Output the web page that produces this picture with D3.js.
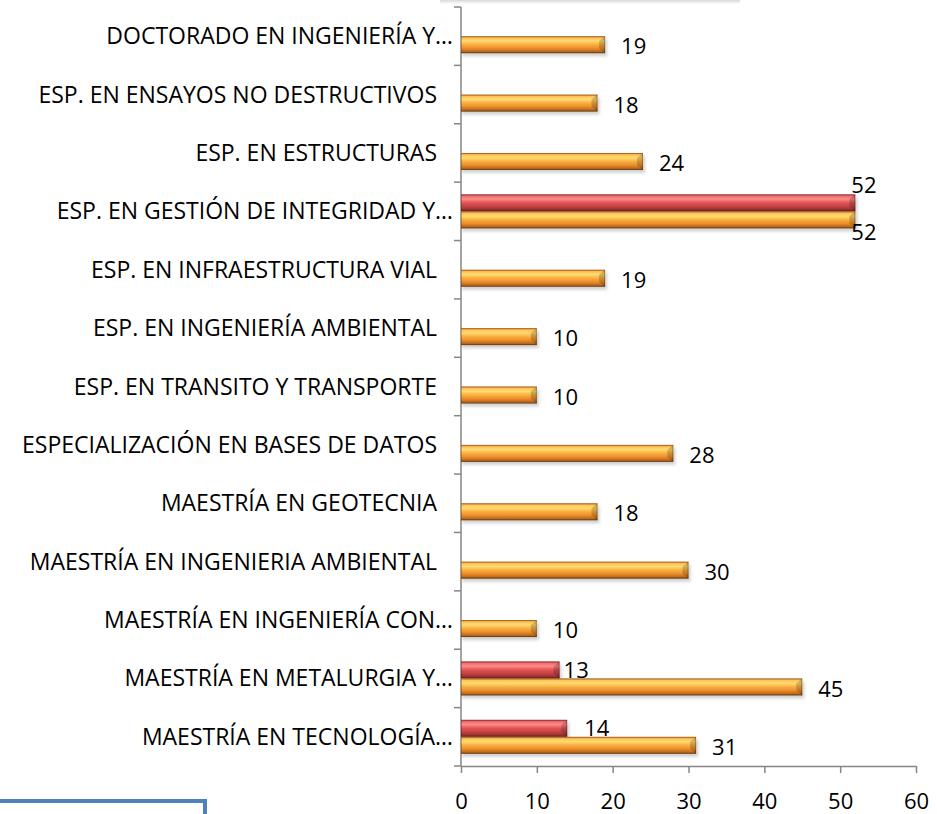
<!DOCTYPE html>
<html>
<head>
<meta charset="utf-8">
<script src="https://d3js.org/d3.v7.min.js"></script>
<style>
  body { margin: 0; background: #fff; }
  text { font-family: "Open Sans", "Noto Sans", sans-serif; font-weight: normal; fill: #000; }
</style>
</head>
<body>
<script>
  // categories, top to bottom
  var categories = [
    "DOCTORADO EN INGENIERÍA Y…",
    "ESP. EN ENSAYOS NO DESTRUCTIVOS",
    "ESP. EN ESTRUCTURAS",
    "ESP. EN GESTIÓN DE INTEGRIDAD Y…",
    "ESP. EN INFRAESTRUCTURA VIAL",
    "ESP. EN INGENIERÍA AMBIENTAL",
    "ESP. EN TRANSITO Y TRANSPORTE",
    "ESPECIALIZACIÓN EN BASES DE DATOS",
    "MAESTRÍA EN GEOTECNIA",
    "MAESTRÍA EN INGENIERIA AMBIENTAL",
    "MAESTRÍA EN INGENIERÍA CON…",
    "MAESTRÍA EN METALURGIA Y…",
    "MAESTRÍA EN TECNOLOGÍA…"
  ];
  var orangeValues = [19, 18, 24, 52, 19, 10, 10, 28, 18, 30, 10, 45, 31];
  var redValues = [null, null, null, 52, null, null, null, null, null, null, null, 13, 14];
  var xTicks = [0, 10, 20, 30, 40, 50, 60];

  var width = 937, height = 814;
  var plotLeft = 461, plotRight = 916, plotTop = 7, plotBottom = 766;
  var barH = 17;
  var fontSize = "23px";

  var svg = d3.select("body").append("svg")
    .attr("width", width)
    .attr("height", height);

  var defs = svg.append("defs");

  function addGradient(id, stops) {
    var g = defs.append("linearGradient")
      .attr("id", id)
      .attr("x1", 0).attr("y1", 0).attr("x2", 0).attr("y2", 1);
    stops.forEach(function(s) {
      g.append("stop").attr("offset", s[0]).attr("stop-color", s[1]);
    });
  }
  addGradient("gOrange", [["0%", "#e07a22"], ["12%", "#fcc45a"], ["28%", "#ffdc70"], ["50%", "#f9ad40"], ["70%", "#ee902c"], ["88%", "#c26c1c"], ["100%", "#8a5220"]]);
  addGradient("gRed", [["0%", "#c23a3a"], ["12%", "#f07070"], ["28%", "#ff8a8a"], ["50%", "#e05252"], ["70%", "#c84444"], ["88%", "#9c3232"], ["100%", "#722626"]]);

  var blur = defs.append("filter").attr("id", "shadow")
    .attr("x", "-5%").attr("y", "-50%").attr("width", "110%").attr("height", "200%");
  blur.append("feGaussianBlur").attr("stdDeviation", 1.5);

  // faint shadow of a box above the chart
  var topShadow = defs.append("linearGradient")
    .attr("id", "gTop").attr("x1", 0).attr("y1", 0).attr("x2", 0).attr("y2", 1);
  topShadow.append("stop").attr("offset", "0%").attr("stop-color", "#d8d8d8");
  topShadow.append("stop").attr("offset", "100%").attr("stop-color", "#ffffff");
  svg.append("rect")
    .attr("x", 440).attr("y", 0).attr("width", 300).attr("height", 4)
    .style("fill", "url(#gTop)");

  var x = d3.scaleLinear().domain([0, 60]).range([plotLeft, plotRight]);
  var y = d3.scaleBand().domain(categories).range([plotTop, plotBottom]).padding(0);

  // axes
  var axisColor = "#868686";
  var yAxis = svg.append("g").attr("transform", "translate(" + plotLeft + ",0)");
  yAxis.append("line")
    .attr("x1", 0).attr("x2", 0).attr("y1", plotTop).attr("y2", plotBottom)
    .attr("stroke", axisColor).attr("stroke-width", 1.5);
  var boundaries = categories.map(function(c) { return y(c); }).concat([plotBottom]);
  yAxis.selectAll("line.tick").data(boundaries).enter().append("line")
    .attr("class", "tick")
    .attr("x1", -7).attr("x2", 0)
    .attr("y1", function(d) { return d; }).attr("y2", function(d) { return d; })
    .attr("stroke", axisColor).attr("stroke-width", 1.5);

  var xAxis = svg.append("g")
    .attr("transform", "translate(0," + plotBottom + ")")
    .call(d3.axisBottom(x).tickValues(xTicks).tickSize(7).tickPadding(28).tickSizeOuter(0));
  xAxis.select(".domain").attr("stroke", axisColor).attr("stroke-width", 1.5);
  xAxis.selectAll(".tick line").attr("stroke", axisColor).attr("stroke-width", 1.5);
  xAxis.selectAll(".tick text")
    .attr("dy", "0.35em")
    .style("font-size", "22px")
    .style("font-family", "'Open Sans', sans-serif")
    .attr("fill", "#000");

  // category labels
  svg.selectAll("text.cat").data(categories).enter().append("text")
    .attr("class", "cat")
    .attr("x", function(d) { return d.slice(-1) === "…" ? 453 : 437; })
    .attr("y", function(d) { return y(d) + y.bandwidth() / 2; })
    .attr("dy", "0.35em")
    .attr("text-anchor", "end")
    .style("font-size", fontSize)
    .text(function(d) { return d; });

  // bars
  function drawSeries(values, grad, offset, cls) {
    var pts = categories.map(function(c, i) {
      return { cat: c, v: values[i] };
    }).filter(function(d) { return d.v != null; });
    var g = svg.append("g").attr("class", cls);
    // soft shadow
    g.selectAll("rect.sh").data(pts).enter().append("rect")
      .attr("class", "sh")
      .attr("x", x(0) + 1)
      .attr("y", function(d) { return y(d.cat) + y.bandwidth() / 2 + offset + 3; })
      .attr("width", function(d) { return x(d.v) - x(0) + 1; })
      .attr("height", barH)
      .style("fill", "#999")
      .style("opacity", 0.45)
      .attr("filter", "url(#shadow)");
    g.selectAll("rect.bar").data(pts).enter().append("rect")
      .attr("class", "bar")
      .attr("x", x(0))
      .attr("y", function(d) { return y(d.cat) + y.bandwidth() / 2 + offset; })
      .attr("width", function(d) { return x(d.v) - x(0); })
      .attr("height", barH)
      .style("fill", "url(#" + grad + ")");
    // bevel on the right end
    g.selectAll("path.bevel").data(pts).enter().append("path")
      .attr("class", "bevel")
      .attr("d", function(d) {
        var x1 = x(d.v), y0 = y(d.cat) + y.bandwidth() / 2 + offset;
        return "M" + x1 + "," + y0 + "L" + (x1 - 6) + "," + (y0 + 5) +
          "L" + (x1 - 6) + "," + (y0 + barH - 5) + "L" + x1 + "," + (y0 + barH) + "Z";
      })
      .style("fill", "#000").style("opacity", 0.18);
    g.selectAll("rect.edge").data(pts).enter().append("rect")
      .attr("class", "edge")
      .attr("x", x(0) + 0.5)
      .attr("y", function(d) { return y(d.cat) + y.bandwidth() / 2 + offset + 0.5; })
      .attr("width", function(d) { return x(d.v) - x(0) - 1; })
      .attr("height", barH - 1)
      .style("fill", "none")
      .style("stroke", "#000")
      .style("stroke-opacity", 0.25);
    return pts;
  }

  var redPts = drawSeries(redValues, "gRed", -barH, "red");
  var orangePts = drawSeries(orangeValues, "gOrange", 0, "orange");

  // value labels
  svg.selectAll("text.vo").data(orangePts).enter().append("text")
    .attr("class", "vo")
    .attr("x", function(d) { return d.v > 50 ? x(d.v) - 4 : x(d.v) + 16; })
    .attr("y", function(d) { return y(d.cat) + y.bandwidth() / 2 + barH / 2 + (d.v > 50 ? 12 : 2); })
    .attr("dy", "0.35em")
    .style("font-size", "22px")
    .text(function(d) { return d.v; });

  svg.selectAll("text.vr").data(redPts).enter().append("text")
    .attr("class", "vr")
    .attr("x", function(d) { return d.v > 50 ? x(d.v) - 4 : (d.v < 14 ? x(d.v) + 4 : x(d.v) + 17); })
    .attr("y", function(d) { return y(d.cat) + y.bandwidth() / 2 - barH / 2 + (d.v > 50 ? -18 : 0); })
    .attr("dy", "0.35em")
    .style("font-size", "22px")
    .text(function(d) { return d.v; });

  // corner of a blue box at the bottom left
  svg.append("path")
    .attr("d", "M0,801 L205,801 L205," + height)
    .attr("fill", "none")
    .attr("stroke", "#4f81bd")
    .attr("stroke-width", 4);
</script>
</body>
</html>
